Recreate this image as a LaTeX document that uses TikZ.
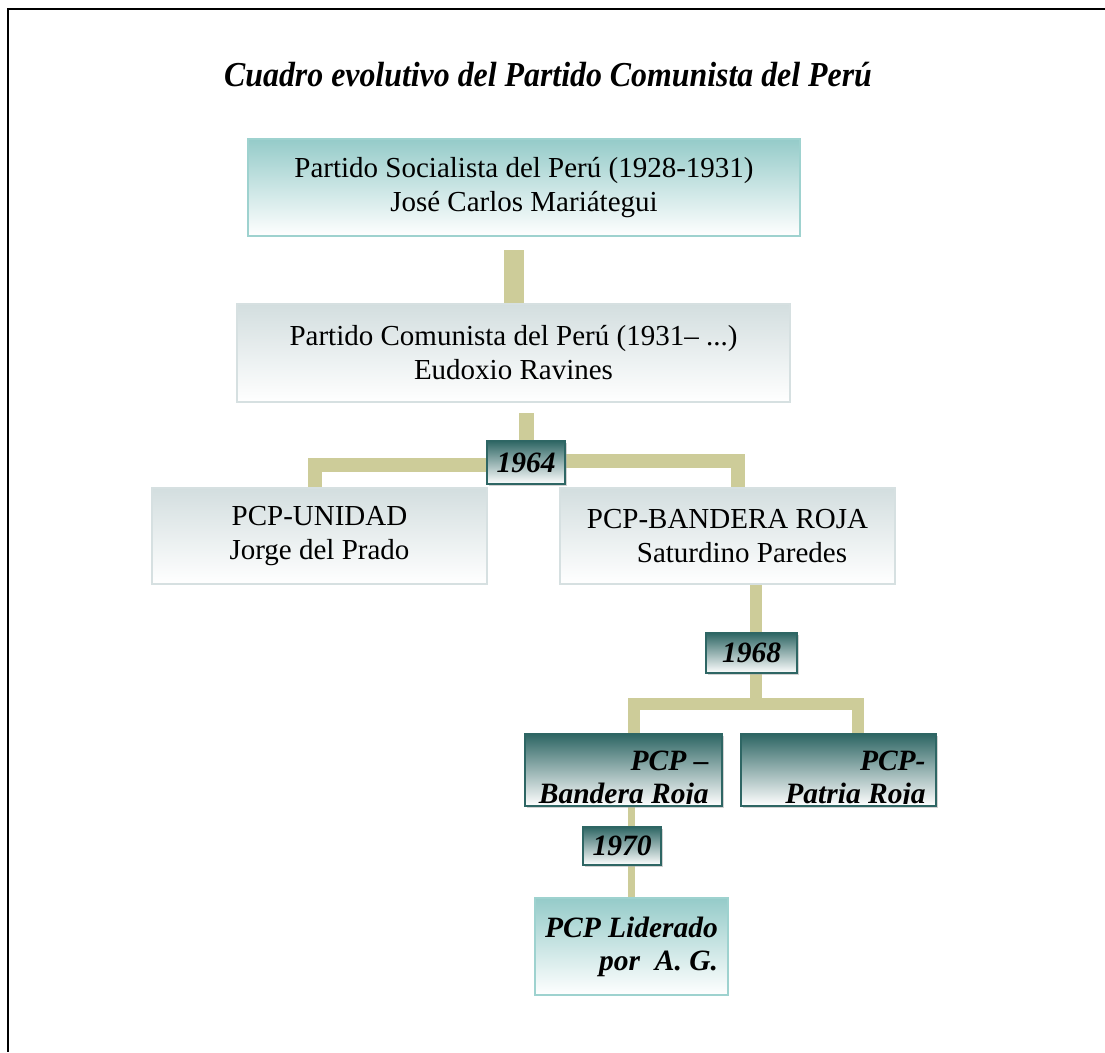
\documentclass[tikz,border=0pt]{standalone}
\usepackage{fontspec}
\setmainfont{Liberation Serif}
\usetikzlibrary{backgrounds, shadows}

\definecolor{barkhaki}{HTML}{CDCC99}
\definecolor{tealtop}{HTML}{95CBC9}
\definecolor{tealline}{HTML}{9ED2CF}
\definecolor{greytop}{HTML}{D3DEDF}
\definecolor{greyline}{HTML}{D6E0E1}
\definecolor{darkteal}{HTML}{2E6664}
\definecolor{darkmid}{HTML}{B9C6C6}

\begin{document}
\begin{tikzpicture}[x=1pt, y=-1pt,
    tealbox/.style={draw=tealline, line width=2pt, top color=tealtop, bottom color=white, inner sep=0pt},
    greybox/.style={draw=greyline, line width=1.5pt, top color=greytop, bottom color=white, inner sep=0pt},
    darkbox/.style={draw=darkteal, line width=1.5pt, top color=darkteal, middle color=darkmid, bottom color=white, inner sep=0pt,
      drop shadow={shadow xshift=2pt, shadow yshift=-2pt, fill=black!35}},
    bar/.style={draw=barkhaki, line join=miter},
    boxtext/.style={font=\fontsize{29}{34}\selectfont, align=center},
    yeartext/.style={font=\bfseries\itshape\fontsize{29.5}{33}\selectfont}]
      \useasboundingbox (0,0) rectangle (1105,1052);
      \draw[line width=2.5pt, line join=miter] (1105,9) -- (8,9) -- (8,1052);

      \node[font=\bfseries\itshape\fontsize{35}{40}\selectfont] (title) at (548,75) {\scalebox{0.91}[1]{Cuadro evolutivo del Partido Comunista del Perú}};

      % tronco
      \node[tealbox, boxtext, minimum width=552pt, minimum height=97pt] (ps) at (524,187.5) {Partido Socialista del Perú (1928-1931)\\José Carlos Mariátegui};
      \node[greybox, boxtext, minimum width=553pt, minimum height=98pt] (pc) at (513.5,353) {Partido Comunista del Perú (1931– ...)\\Eudoxio Ravines};

      % 1964
      \node[darkbox, yeartext, minimum width=78pt, minimum height=43pt] (y64) at (526,462.5) {1964};
      \node[greybox, boxtext, minimum width=335pt, minimum height=96pt] (un) at (319.5,536) {PCP-UNIDAD\\Jorge del Prado};
      \node[greybox, boxtext, minimum width=335pt, minimum height=96pt] (br) at (727.5,536) {PCP-BANDERA ROJA\\\hspace*{1em}Saturdino Paredes};

      % 1968
      \node[darkbox, yeartext, minimum width=91pt, minimum height=40pt] (y68) at (751.5,653) {1968\hspace{10pt}};
      \node[darkbox, minimum width=197pt, minimum height=72pt] (bro) at (623.5,770) {};
      \node[darkbox, minimum width=195pt, minimum height=72pt] (pro) at (838.5,770) {};
      \begin{scope}
        \clip ([yshift=3pt]bro.south west) rectangle (pro.north east);
        \node[yeartext, align=right, anchor=south east, inner sep=0pt] (brotext) at ([xshift=-14pt,yshift=-3pt]bro.south east) {PCP –\\Bandera Roja};
        \node[yeartext, align=right, anchor=south east, inner sep=0pt] (protext) at ([xshift=-11pt,yshift=-3pt]pro.south east) {PCP-\\Patria Roja};
      \end{scope}

      % 1970
      \node[darkbox, yeartext, minimum width=78pt, minimum height=38pt] (y70) at (622,846) {1970};
      \node[tealbox, yeartext, align=right, minimum width=193pt, minimum height=97pt] (lid) at (631.5,946.5) {PCP Liderado\\por \ A. G.};

      \begin{scope}[on background layer]
        \draw[bar, line width=20pt, shorten >=13pt] (pc.north) -- (pc.north |- ps.south);
        \draw[bar, line width=15pt, shorten >=10pt] (y64.north) -- (y64.north |- pc.south);
        \draw[bar, line width=14pt] ([yshift=-2pt]y64.west) -| ([xshift=-5pt]un.north);
        \draw[bar, line width=14pt] ([yshift=2pt]y64.east) -| ([xshift=10pt]br.north);

        \coordinate (f68) at ([xshift=4pt,yshift=-30pt]y68.south);
        \draw[bar, line width=12pt] ([xshift=4pt]y68.north) -- ([xshift=4pt]y68.north |- br.south);
        \draw[bar, line width=12pt] ([xshift=4pt]y68.south) -- (f68);
        \draw[bar, line width=12pt] ([xshift=10pt]bro.north) |- (f68) -| ([xshift=19pt]pro.north);

        \draw[bar, line width=7pt] (lid.north) -- (lid.north |- bro.south);
      \end{scope}

    \end{tikzpicture}
\end{document}
